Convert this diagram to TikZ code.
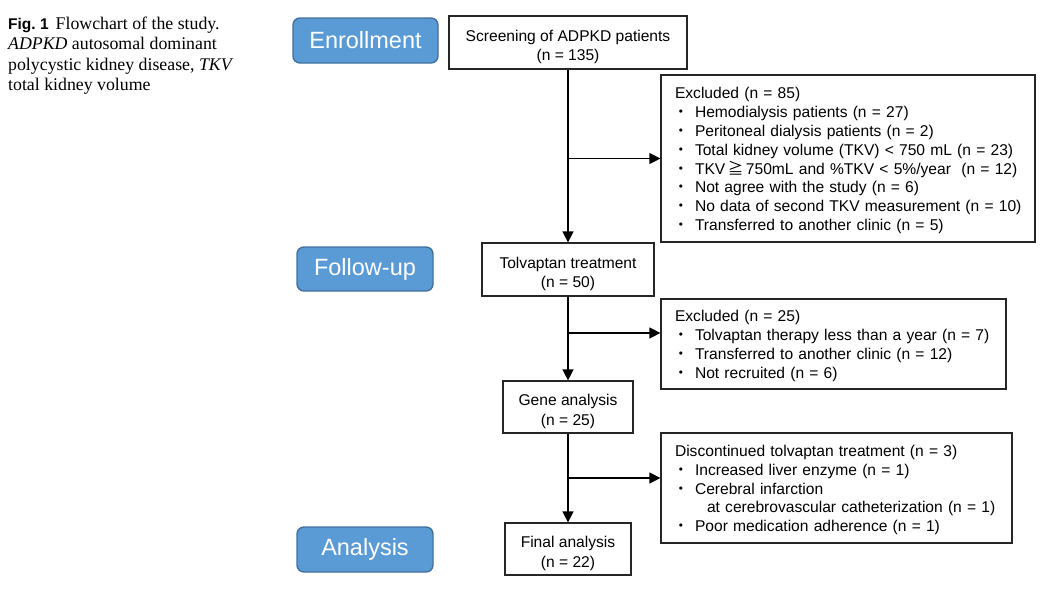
\documentclass[tikz,border=0pt]{standalone}
\usepackage{fontspec}
\setmainfont{Liberation Serif}
\setsansfont{Liberation Sans}
\newfontfamily\cjk{Noto Sans CJK JP}
\usetikzlibrary{arrows.meta,positioning,calc}
\definecolor{tagblue}{HTML}{5B9BD5}
\definecolor{tagedge}{HTML}{41719C}
\newcommand{\bul}{\makebox[20pt][l]{\hspace{-2pt}\cjk ・}}

\begin{document}
\begin{tikzpicture}[x=1pt,y=-1pt,
  every node/.style={font=\sffamily\fontsize{15.6}{18.8}\selectfont},
  tag/.style={fill=tagblue,draw=tagedge,line width=1.4pt,rounded corners=7pt,text=white,font=\sffamily\fontsize{23.5}{26}\selectfont,minimum height=45pt},
  box/.style={draw=black!85,line width=1.2pt,align=center,inner sep=0pt,minimum height=53pt,
    font=\sffamily\fontsize{15.6}{19.5}\selectfont,text height=40pt,text depth=4pt},
  listbox/.style={draw=black!85,line width=1.2pt,align=left,inner xsep=14pt,inner ysep=0pt,
    execute at begin node=\rule{0pt}{15.5pt}},
  arr/.style={-{Triangle[length=11pt,width=11pt]},line width=1.2pt}]
\useasboundingbox (0,0) rectangle (1052,595);

% caption
\node[anchor=north west,align=left,inner sep=0pt,font=\rmfamily\fontsize{17.8}{20.2}\selectfont] (cap) at (8,17)
  {{\sffamily\bfseries\fontsize{15.5}{20.2}\selectfont Fig.~1}\hspace{7pt}Flowchart of the study.\\
   \textit{ADPKD} autosomal dominant\\
   polycystic kidney disease, \textit{TKV}\\
   total kidney volume};

% stage tags
\node[tag,minimum width=145pt] (enr) at (365.5,40.5) {Enrollment};
\node[tag,minimum width=136pt,minimum height=44pt] (fol) at (365,269) {Follow-up};
\node[tag,minimum width=136pt] (ana) at (365,549.5) {Analysis};

% main flow
\node[box,minimum width=238pt] (scr) at (568,42.5) {Screening of ADPKD patients\\(n = 135)};
\node[box,minimum width=172pt] (tol) at (568,269.5) {Tolvaptan treatment\\(n = 50)};
\node[box,minimum width=130pt,minimum height=52pt] (gene) at (568,407) {Gene analysis\\(n = 25)};
\node[box,minimum width=126pt,minimum height=52pt] (fin) at (568,549) {Final analysis\\(n = 22)};

% exclusions
\node[listbox,text width=346pt,minimum height=167pt] (ex1) at (848,158.5) {Excluded (n = 85)\\
  \bul Hemodialysis patients (n = 27)\\
  \bul Peritoneal dialysis patients (n = 2)\\
  \bul Total kidney volume (TKV) < 750 mL (n = 23)\\
  \bul TKV\hspace{2.5pt}{\cjk ≧}\hspace{2.5pt}750mL and \%TKV < 5\%/year\ \ (n = 12)\\
  \bul Not agree with the study (n = 6)\\
  \mbox{\bul No data of second TKV measurement (n = 10)}\\
  \bul Transferred to another clinic (n = 5)};
\node[listbox,text width=317pt,minimum height=90pt] (ex2) at (833.5,344) {Excluded (n = 25)\\
  \bul Tolvaptan therapy less than a year (n = 7)\\
  \bul Transferred to another clinic (n = 12)\\
  \bul Not recruited (n = 6)};
\node[listbox,text width=323pt,minimum height=110pt] (disc) at (836.5,488) {Discontinued tolvaptan treatment (n = 3)\\
  \bul Increased liver enzyme (n = 1)\\
  \bul Cerebral infarction\\
  \hspace{32pt}at cerebrovascular catheterization (n = 1)\\
  \bul Poor medication adherence (n = 1)};

% connectors
\coordinate (b2) at (568,333);
\coordinate (b3) at (568,478);
\draw[arr] (scr.south) -- (tol.north);
\draw[arr] (scr.south |- ex1.west) -- (ex1.west);
\draw[arr] (tol.south) -- (gene.north);
\draw[arr] (b2) -- (b2 -| ex2.west);
\draw[arr] (gene.south) -- (fin.north);
\draw[arr] (b3) -- (b3 -| disc.west);
\end{tikzpicture}
\end{document}
